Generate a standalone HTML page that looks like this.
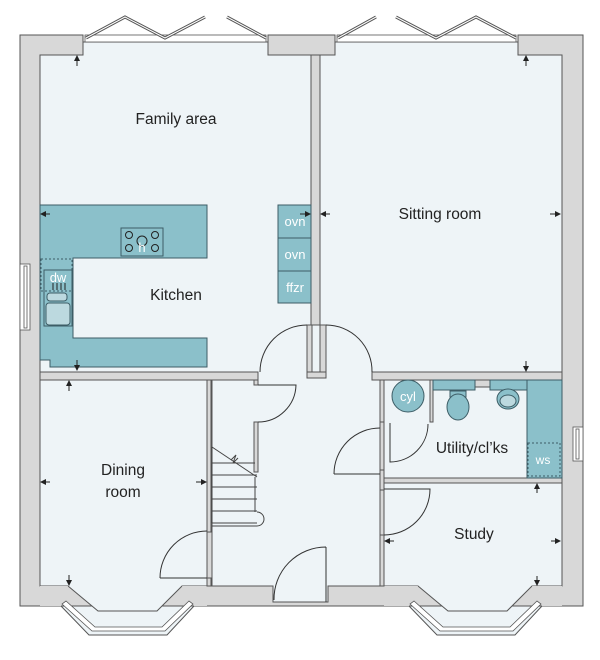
<!DOCTYPE html>
<html><head><meta charset="utf-8"><style>
html,body{margin:0;padding:0;background:#fff;width:600px;height:660px;overflow:hidden}
svg{display:block}
text{font-family:"Liberation Sans",sans-serif;fill:#222}
</style></head><body>
<svg width="600" height="660" viewBox="0 0 600 660" xmlns="http://www.w3.org/2000/svg">
<defs>
<marker id="ah" viewBox="0 0 6 6" refX="3" refY="3" markerWidth="6" markerHeight="6" orient="auto"><path d="M0,0L6,3L0,6z" fill="#222"/></marker>
</defs>
<path d="M20,35H83V42H268V35H335V42H518V35H583V606H20Z" fill="#d8d8d8" stroke="#555" stroke-width="1"/>
<path d="M61,606L89,635H167L194,606Z" fill="#eef4f7" stroke="#555"/>
<path d="M409,606L437,635H515L542,606Z" fill="#eef4f7" stroke="#555"/>
<g fill="#eef4f7" stroke="#555" stroke-width="1">
<path d="M40,55H83V42H268V55H311V372H40Z"/>
<path d="M320,55H335V42H518V55H562V372H320Z"/>
<path d="M40,380H207V586H182L157,611H98L68,586H40Z"/>
<path d="M212,380H380V586H328V602H273V586H212Z"/>
<path d="M384,380H562V478H384Z"/>
<path d="M384,483H562V586H532L507,611H448L418,586H384Z"/>
<rect x="258" y="322" width="114" height="60" stroke="none"/>
</g>
<g fill="#d8d8d8" stroke="#555" stroke-width="1">
<path d="M68,586L40,586V606H61Z M182,586H207V606H194Z" stroke="none"/>
<path d="M418,586H384V606H409Z M532,586H562V606H542Z" stroke="none"/>
<rect x="311" y="55" width="9" height="270"/>
<rect x="307" y="325" width="5" height="53"/>
<rect x="320" y="325" width="6" height="53"/>
<rect x="307" y="372" width="19" height="6"/>
<rect x="40" y="372" width="218" height="8"/>
<rect x="372" y="372" width="190" height="8"/>
<rect x="207" y="380" width="4" height="152"/>
<rect x="254" y="380" width="4" height="5"/>
<rect x="254" y="422" width="4" height="50"/>
<rect x="380" y="380" width="4" height="42"/>
<rect x="380" y="470" width="4" height="20"/>
<rect x="384" y="478" width="178" height="5"/>
<rect x="380" y="535" width="4" height="51"/>
<rect x="430" y="380" width="3" height="42"/>
<rect x="475" y="380" width="15" height="7"/>
<rect x="207" y="578" width="4" height="8"/>
</g>
<g fill="#8bc0ca" stroke="#3d5d66" stroke-width="1">
<path d="M40,205H207V258H73V338H207V367H50V360H40Z"/>
<rect x="278" y="205" width="33" height="33"/>
<rect x="278" y="238" width="33" height="33"/>
<rect x="278" y="271" width="33" height="32"/>
<rect x="121" y="228" width="42" height="28" fill="none"/>
<rect x="44" y="270" width="28" height="56" fill="none"/>
<rect x="47" y="293" width="20" height="8" rx="3" fill="#bcd9df"/>
<rect x="46" y="303" width="24" height="22" rx="3" fill="#bcd9df"/>
<rect x="41" y="259" width="31" height="32" fill="none" stroke-dasharray="2,2"/>
<rect x="433" y="380" width="42" height="10"/>
<rect x="490" y="380" width="37" height="10"/>
<rect x="527" y="380" width="35" height="98"/>
<rect x="528" y="443" width="32" height="33" fill="none" stroke-dasharray="2,2"/>
<circle cx="408" cy="396" r="16"/>
<rect x="450" y="391" width="16" height="6"/>
<ellipse cx="458" cy="407" rx="11" ry="13"/>
<ellipse cx="508" cy="399" rx="11" ry="10"/>
<ellipse cx="508" cy="401" rx="8" ry="6" fill="#bcd9df"/>
</g>
<g fill="none" stroke="#222" stroke-width="1">
<circle cx="129" cy="235" r="3.5"/><circle cx="155" cy="235" r="3.5"/>
<circle cx="129" cy="248" r="3.5"/><circle cx="155" cy="248" r="3.5"/>
<circle cx="142" cy="241" r="5"/>
<path d="M53,283V290M57,283V290M61,283V290M65,283V290"/>
</g>
<g fill="#fff" stroke="#555" stroke-width="0.8">
<rect x="20" y="264" width="10" height="66"/><rect x="24" y="266" width="3" height="62"/>
<rect x="573" y="427" width="10" height="34"/><rect x="576" y="429" width="3" height="30"/>
<rect x="85" y="35" width="181" height="7"/>
<rect x="337" y="35" width="179" height="7"/>
</g>
<g stroke="#555" stroke-width="3" fill="none">
<path d="M86,38L125,17L165,38L205,17"/>
<path d="M227,17L266,38"/>
<path d="M338,38L376,17"/>
<path d="M396,17L436,38L476,17L516,38"/>
</g>
<g stroke="#fff" stroke-width="1" fill="none">
<path d="M86,38L125,17L165,38L205,17"/><path d="M227,17L266,38"/>
<path d="M338,38L376,17"/><path d="M396,17L436,38L476,17L516,38"/>
</g>
<g stroke="#555" fill="#fff" stroke-width="0.8">
<path d="M62,604L92,631H165L193,604L189,601L162,627H95L66,601Z"/>
<path d="M410,604L440,631H513L541,604L537,601L510,627H443L414,601Z"/>
</g>
<g fill="none" stroke="#333" stroke-width="1">
<path d="M307,325A47,47 0 0 0 260,372"/>
<path d="M326,325A46,46 0 0 1 372,372"/>
<path d="M258,385H296A38,38 0 0 1 258,422"/>
<path d="M334,474H380M334,474A46,46 0 0 1 380,428"/>
<path d="M390,423V462A38,38 0 0 0 428,424"/>
<path d="M384,489H430A46,46 0 0 1 384,535"/>
<path d="M160,578H207M160,578A47,47 0 0 1 207,531"/>
<path d="M326,547V602M326,547A52,52 0 0 0 274,600"/>
</g>
<g fill="none" stroke="#444" stroke-width="1">
<path d="M212,447L257,477"/>
<path d="M212,463H255M212,475H257M212,487H257M212,499H257M212,511H257M212,523H257"/>
<path d="M212,447V523"/>
<path d="M255,477V512"/>
<path d="M257,512A7,7 0 0 1 257,526H212"/>
<path d="M231,460L236,455L233,463L238,458"/>
</g>
<g stroke="#222" stroke-width="1" marker-end="url(#ah)">
<line x1="77" y1="66" x2="77" y2="58"/>
<line x1="526" y1="66" x2="526" y2="58"/>
<line x1="50" y1="214" x2="43" y2="214"/>
<line x1="300" y1="214" x2="308" y2="214"/>
<line x1="330" y1="214" x2="323" y2="214"/>
<line x1="550" y1="214" x2="558" y2="214"/>
<line x1="77" y1="360" x2="77" y2="368"/>
<line x1="526" y1="361" x2="526" y2="369"/>
<line x1="69" y1="391" x2="69" y2="383"/>
<line x1="50" y1="482" x2="43" y2="482"/>
<line x1="196" y1="482" x2="204" y2="482"/>
<line x1="69" y1="575" x2="69" y2="583"/>
<line x1="537" y1="493" x2="537" y2="486"/>
<line x1="394" y1="541" x2="387" y2="541"/>
<line x1="551" y1="541" x2="558" y2="541"/>
<line x1="537" y1="576" x2="537" y2="583"/>
</g>
<g font-size="15.5">
<text x="176" y="124" text-anchor="middle">Family area</text>
<text x="440" y="219" text-anchor="middle">Sitting room</text>
<text x="176" y="300" text-anchor="middle">Kitchen</text>
<text x="123" y="475" text-anchor="middle">Dining</text>
<text x="123" y="497" text-anchor="middle">room</text>
<text x="472" y="453" text-anchor="middle">Utility/cl’ks</text>
<text x="474" y="539" text-anchor="middle">Study</text>
</g>
<g font-size="13">
<text x="295" y="226" text-anchor="middle" style="fill:#fff">ovn</text>
<text x="295" y="259" text-anchor="middle" style="fill:#fff">ovn</text>
<text x="295" y="292" text-anchor="middle" style="fill:#fff">ffzr</text>
<text x="58" y="282" text-anchor="middle" style="fill:#fff">dw</text>
<text x="142" y="252" text-anchor="middle" style="fill:#fff">h</text>
<text x="408" y="401" text-anchor="middle" style="fill:#fff">cyl</text>
<text x="543" y="464" text-anchor="middle" font-size="12" style="fill:#fff">ws</text>
</g>
</svg>
</body></html>
